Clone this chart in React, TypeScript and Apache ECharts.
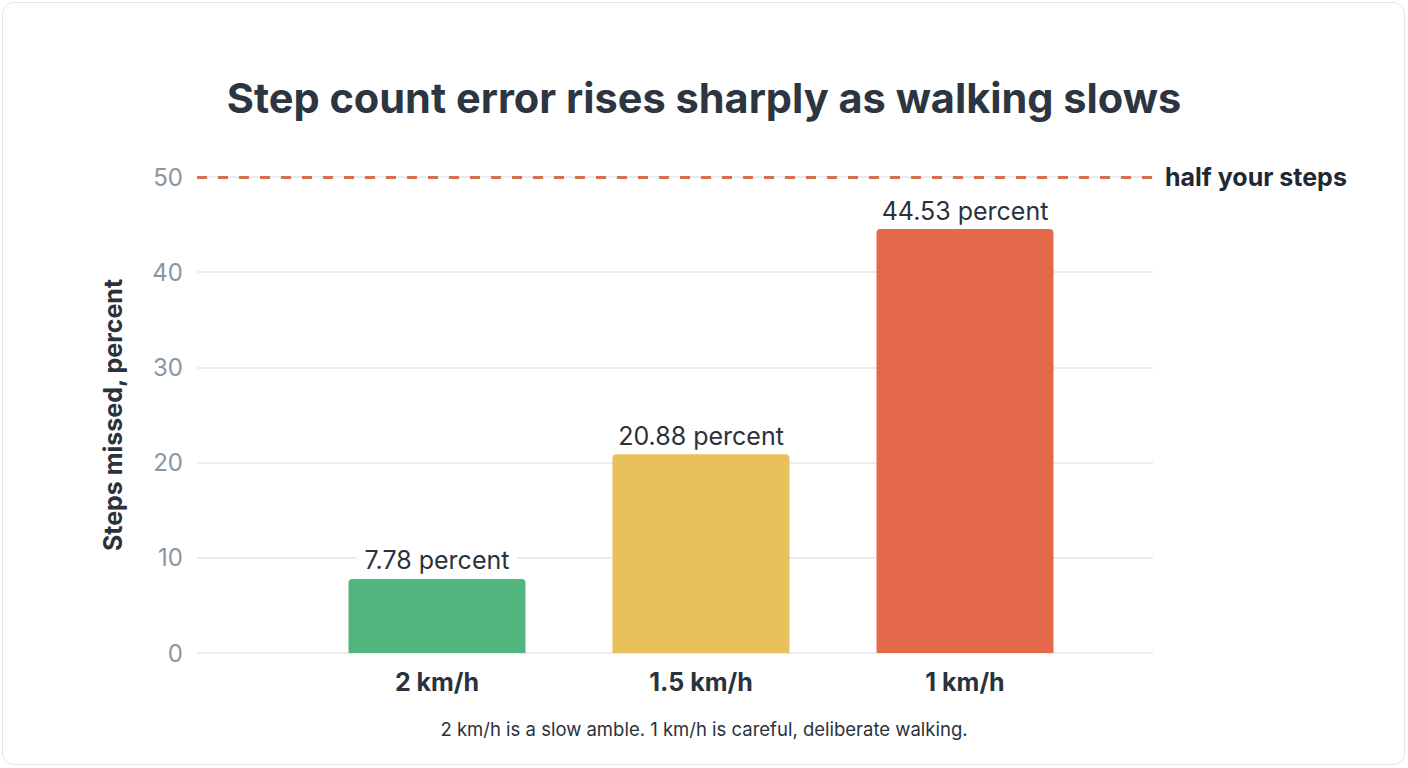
import { useEffect, useRef } from 'react';
import * as echarts from 'echarts';

const categories = ['2 km/h', '1.5 km/h', '1 km/h'];
const stepsMissed = [7.78, 20.88, 44.53];
const barColors = ['#52b47e', '#e8c15d', '#e4694a'];
const halfLine = 50;
const yTicks = { min: 0, max: 50, interval: 10 };

const FONT = 'Inter, "Noto Sans", sans-serif';
const DARK = '#2a323c';

const App: React.FC = () => {
  const chartRef = useRef<HTMLDivElement>(null);

  useEffect(() => {
    if (!chartRef.current) return;
    const chart = echarts.init(chartRef.current, undefined, { renderer: 'svg' });

    const option: echarts.EChartsOption = {
      animation: false,
      textStyle: { fontFamily: FONT },
      title: {
        text: 'Step count error rises sharply as walking slows',
        left: 'center',
        top: 72,
        textStyle: { fontSize: 41.5, fontWeight: 'bold', color: '#2d3640', fontFamily: FONT },
      },
      // grid 0 carries the y axis, gridlines and reference line; grid 1 the bars
      grid: [
        { left: 197, right: 255, top: 177, bottom: 115 },
        { left: 305, right: 311, top: 177, bottom: 115 },
      ],
      xAxis: [
        { type: 'value', gridIndex: 0, min: 0, max: 1, show: false },
        {
          type: 'category',
          gridIndex: 1,
          data: categories,
          axisLine: { show: false },
          axisTick: { show: false },
          axisLabel: { margin: 16, fontSize: 25, fontWeight: 'bold', color: DARK, fontFamily: FONT },
        },
      ],
      yAxis: [
        {
          type: 'value',
          gridIndex: 0,
          ...yTicks,
          name: 'Steps missed, percent',
          nameLocation: 'middle',
          nameGap: 72,
          nameTextStyle: { fontSize: 25, fontWeight: 'bold', color: DARK, fontFamily: FONT },
          axisLine: { show: false },
          axisTick: { show: false },
          axisLabel: { margin: 14, fontSize: 24, color: '#8b95a1', fontFamily: FONT },
          splitLine: { lineStyle: { color: '#e3e6ea', width: 1.5 } },
        },
        { type: 'value', gridIndex: 1, ...yTicks, show: false },
      ],
      series: [
        {
          type: 'line',
          xAxisIndex: 0,
          yAxisIndex: 0,
          data: [],
          silent: true,
          markLine: {
            silent: true,
            symbol: 'none',
            lineStyle: { color: '#d8704f', width: 3, type: [10, 11] },
            label: {
              position: 'end',
              distance: 12,
              formatter: 'half your steps',
              fontSize: 25,
              fontWeight: 'bold',
              color: '#1f2933',
              fontFamily: FONT,
            },
            data: [{ yAxis: halfLine }],
          },
        },
        {
          type: 'bar',
          xAxisIndex: 1,
          yAxisIndex: 1,
          barWidth: 177,
          data: stepsMissed.map((v, i) => ({
            value: v,
            itemStyle: { color: barColors[i], borderRadius: [4, 4, 0, 0] },
          })),
          label: {
            show: true,
            position: 'top',
            distance: 4,
            formatter: '{c} percent',
            fontSize: 25,
            color: DARK,
            fontFamily: FONT,
            backgroundColor: '#ffffff',
            padding: [2, 8],
          },
        },
      ],
      graphic: [
        {
          type: 'text',
          x: 704,
          y: 729,
          style: {
            text: '2 km/h is a slow amble. 1 km/h is careful, deliberate walking.',
            fontSize: 18.5,
            fill: DARK,
            fontFamily: FONT,
            align: 'center',
            verticalAlign: 'middle',
          },
        },
      ],
    };

    chart.setOption(option);
    return () => {
      chart.dispose();
    };
  }, []);

  return (
    <div style={{ position: 'fixed', left: 0, top: 0, width: 1408, height: 768, background: '#ffffff' }}>
      <div
        style={{
          position: 'absolute',
          left: 2,
          top: 2,
          width: 1401,
          height: 761,
          border: '1px solid #e3e6ea',
          borderRadius: 12,
        }}
      />
      <div ref={chartRef} style={{ position: 'absolute', left: 0, top: 0, width: 1408, height: 768 }} />
    </div>
  );
};

export default App;
